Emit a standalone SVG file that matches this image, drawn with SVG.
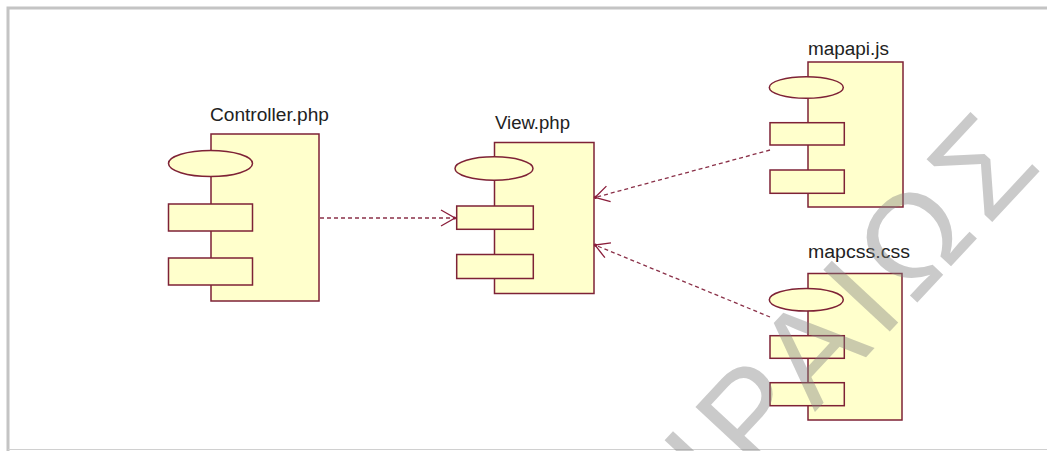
<svg xmlns="http://www.w3.org/2000/svg" width="1047" height="451" viewBox="0 0 1047 451">
  <defs>
    <style>
      .body { fill: #ffffcc; stroke: #7e2236; stroke-width: 1.5; }
      .label { font-family: "Liberation Sans", Arial, sans-serif; font-size: 18px; fill: #222; }
      .dep { fill: none; stroke: #8a3048; stroke-width: 1.3; stroke-dasharray: 4 3; }
      .wm { font-family: "Liberation Sans", Arial, sans-serif; font-size: 132px; fill: #808080; fill-opacity: 0.42; letter-spacing: 10px; }
    </style>
    <marker id="open" markerUnits="userSpaceOnUse" markerWidth="24" markerHeight="24" viewBox="-20 -12 24 24" refX="0" refY="0" orient="auto">
      <path d="M -14 -8 L 0 0 L -14 8" fill="none" stroke="#8a1d3a" stroke-width="1.3"/>
      <circle cx="-0.5" cy="0" r="1.6" fill="#8a1d3a"/>
    </marker>
  </defs>

  <rect width="1047" height="451" fill="#ffffff"/>
  <!-- panel frame -->
  <path d="M 8 451 L 8 8 L 1047 8" fill="none" stroke="#c4c4c4" stroke-width="3"/>
  <line x1="8" y1="449.5" x2="1047" y2="449.5" stroke="#d0d0d0" stroke-width="1"/>

  <!-- Controller.php -->
  <g id="controller">
    <rect class="body" x="211" y="134" width="108" height="167"/>
    <ellipse class="body" cx="210.5" cy="163.5" rx="42" ry="13"/>
    <rect class="body" x="168.5" y="204" width="84" height="27"/>
    <rect class="body" x="168.5" y="258" width="84" height="27"/>
    <text class="label" x="210" y="121" textLength="119" lengthAdjust="spacingAndGlyphs">Controller.php</text>
  </g>

  <!-- View.php -->
  <g id="view">
    <rect class="body" x="494.5" y="142.5" width="99.5" height="151"/>
    <ellipse class="body" cx="494" cy="168.5" rx="39" ry="11.7"/>
    <rect class="body" x="456.7" y="206" width="76.6" height="23.3"/>
    <rect class="body" x="456.7" y="254.5" width="76.6" height="24"/>
    <text class="label" x="495" y="129" textLength="75" lengthAdjust="spacingAndGlyphs">View.php</text>
  </g>

  <!-- mapapi.js -->
  <g id="mapapi">
    <rect class="body" x="808" y="62" width="95" height="145"/>
    <ellipse class="body" cx="806.3" cy="87.5" rx="37" ry="10.8"/>
    <rect class="body" x="770" y="122.7" width="74.3" height="22.3"/>
    <rect class="body" x="770" y="170" width="74.3" height="23.3"/>
    <text class="label" x="808" y="55" textLength="81" lengthAdjust="spacingAndGlyphs">mapapi.js</text>
  </g>

  <!-- mapcss.css -->
  <g id="mapcss">
    <rect class="body" x="808" y="273.5" width="94" height="146.5"/>
    <ellipse class="body" cx="806.3" cy="299.7" rx="37" ry="11.3"/>
    <rect class="body" x="770" y="335.7" width="74.3" height="22.6"/>
    <rect class="body" x="770" y="382.7" width="74.3" height="23"/>
    <text class="label" x="808" y="258" textLength="102" lengthAdjust="spacingAndGlyphs">mapcss.css</text>
  </g>

  <!-- dependencies -->
  <g id="connectors">
    <line class="dep" x1="320" y1="218" x2="455" y2="218" marker-end="url(#open)"/>
    <line class="dep" x1="770" y1="150" x2="595" y2="197.5" marker-end="url(#open)"/>
    <line class="dep" x1="770" y1="317" x2="595" y2="245" marker-end="url(#open)"/>
  </g>

  <!-- diagonal watermark -->
  <g transform="translate(1050 160) rotate(-47)">
    <text class="wm" x="0" y="0" text-anchor="end">ΠΕΙΡΑΙΩΣ</text>
  </g>
</svg>
